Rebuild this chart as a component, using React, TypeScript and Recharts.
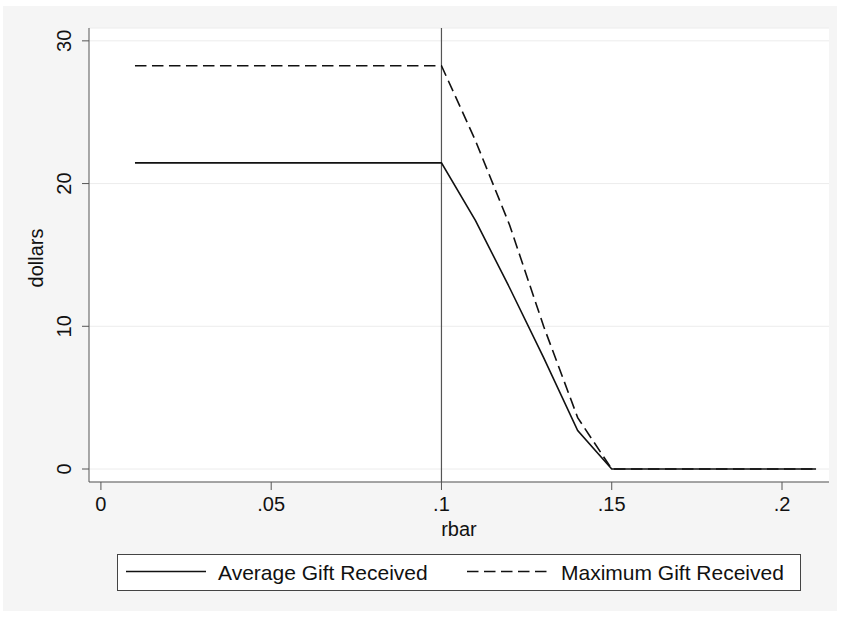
import { LineChart, Line, XAxis, YAxis, CartesianGrid, ReferenceLine } from "recharts"

const rbar = [
  0.01, 0.02, 0.03, 0.04, 0.05, 0.06, 0.07, 0.08, 0.09, 0.1, 0.11,
  0.12, 0.13, 0.14, 0.15, 0.16, 0.17, 0.18, 0.19, 0.2, 0.21,
]
const averageGift = [
  21.45, 21.45, 21.45, 21.45, 21.45, 21.45, 21.45, 21.45, 21.45, 21.45, 17.4,
  12.7, 7.8, 2.7, 0, 0, 0, 0, 0, 0, 0,
]
const maximumGift = [
  28.26, 28.26, 28.26, 28.26, 28.26, 28.26, 28.26, 28.26, 28.26, 28.26, 23.0,
  17.1, 10.0, 3.6, 0, 0, 0, 0, 0, 0, 0,
]
const xTicks = [0, 0.05, 0.1, 0.15, 0.2]
const xTickLabels = ["0", ".05", ".1", ".15", ".2"]
const yTicks = [0, 10, 20, 30]
const cutoff = 0.1

const data = rbar.map((r, i) => ({
  rbar: r,
  avg: averageGift[i],
  max: maximumGift[i],
}))

const FONT = "'Liberation Sans', Arial, Helvetica, sans-serif"
const INK = "#111"
const AXIS = "#555"
const DASH = "11.5 5.5"

function YTick(props: any) {
  const { y, payload } = props
  const cx = 64
  return (
    <text
      x={cx}
      y={y}
      transform={`rotate(-90 ${cx} ${y})`}
      textAnchor="middle"
      dy="0.36em"
      fontSize={20}
      fill={INK}
      fontFamily={FONT}
    >
      {payload.value}
    </text>
  )
}

function YLabel() {
  const x = 43
  const y = 258
  return (
    <text
      x={x}
      y={y}
      transform={`rotate(-90 ${x} ${y})`}
      textAnchor="middle"
      fontSize={20}
      fill={INK}
      fontFamily={FONT}
    >
      dollars
    </text>
  )
}

function LegendBox() {
  const text: React.CSSProperties = {
    position: "absolute",
    top: 5,
    fontSize: 21,
    lineHeight: "26px",
    color: INK,
    fontFamily: FONT,
    whiteSpace: "nowrap",
  }
  return (
    <div
      style={{
        position: "absolute",
        left: 117,
        top: 554,
        width: 682,
        height: 35,
        border: "1.5px solid #444",
        background: "#fff",
      }}
    >
      <svg width={682} height={35} style={{ position: "absolute", left: 0, top: 0 }}>
        <line x1={8} x2={88} y1={16.5} y2={16.5} stroke={INK} strokeWidth={1.6} />
        <line
          x1={349}
          x2={429}
          y1={16.5}
          y2={16.5}
          stroke={INK}
          strokeWidth={1.6}
          strokeDasharray={DASH}
        />
      </svg>
      <span style={{ ...text, left: 100 }}>Average Gift Received</span>
      <span style={{ ...text, left: 443 }}>Maximum Gift Received</span>
    </div>
  )
}

export default function App() {
  return (
    <div
      style={{
        position: "absolute",
        left: 0,
        top: 0,
        width: 841,
        height: 617,
        background: "#fff",
        fontFamily: FONT,
      }}
    >
      <div
        style={{
          position: "absolute",
          left: 3,
          top: 6,
          width: 834,
          height: 605,
          background: "#f5f5f5",
        }}
      />
      <div style={{ position: "absolute", left: 0, top: 0 }}>
        <LineChart
          width={841}
          height={617}
          data={data}
          margin={{ top: 28, right: 12, bottom: 0, left: 0 }}
        >
          <CartesianGrid vertical={false} stroke="#ececec" fill="#ffffff" />
          <XAxis
            dataKey="rbar"
            type="number"
            domain={[-0.0035, 0.2138]}
            ticks={xTicks}
            interval={0}
            allowDataOverflow
            tickFormatter={(v: number) => xTickLabels[xTicks.indexOf(v)] ?? String(v)}
            height={135}
            tickSize={8}
            tickMargin={7}
            stroke={AXIS}
            tick={{ fill: INK, fontSize: 20, fontFamily: FONT }}
            label={{
              value: "rbar",
              position: "insideTop",
              offset: 40,
              fontSize: 20,
              fill: INK,
              fontFamily: FONT,
            }}
          />
          <YAxis
            type="number"
            domain={[-0.91, 30.9]}
            ticks={yTicks}
            interval={0}
            allowDataOverflow
            width={89}
            tickSize={7}
            stroke={AXIS}
            tick={<YTick />}
            label={<YLabel />}
          />
          <ReferenceLine x={cutoff} stroke={AXIS} strokeWidth={1.2} />
          <Line
            type="linear"
            dataKey="avg"
            stroke={INK}
            strokeWidth={1.6}
            dot={false}
            activeDot={false}
            isAnimationActive={false}
          />
          <Line
            type="linear"
            dataKey="max"
            stroke={INK}
            strokeWidth={1.6}
            strokeDasharray={DASH}
            dot={false}
            activeDot={false}
            isAnimationActive={false}
          />
        </LineChart>
      </div>
      <LegendBox />
    </div>
  )
}
